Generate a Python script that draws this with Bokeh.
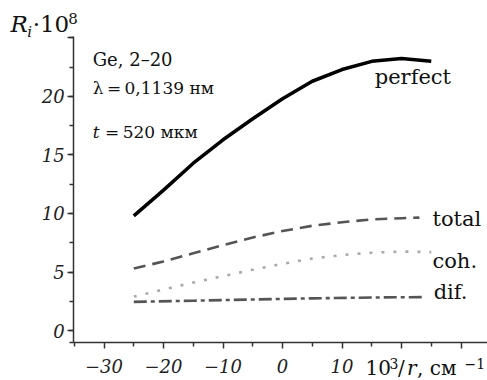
from bokeh.plotting import figure
from bokeh.models import Range1d, Label, FixedTicker
from bokeh.embed import file_html
from bokeh.resources import INLINE

# data
x_perfect = [-25, -20, -15, -10, -5, 0, 5, 10, 15, 20, 25]
y_perfect = [9.8, 12.0, 14.3, 16.3, 18.1, 19.8, 21.3, 22.3, 23.0, 23.25, 23.0]
x_total = [-25, -20, -15, -10, -5, 0, 5, 10, 15, 20, 23]
y_total = [5.3, 5.9, 6.6, 7.3, 7.95, 8.5, 8.95, 9.25, 9.5, 9.6, 9.65]
x_coh = [-25, -20, -15, -10, -5, 0, 5, 10, 15, 20, 25]
y_coh = [2.9, 3.5, 4.1, 4.65, 5.2, 5.7, 6.15, 6.45, 6.65, 6.75, 6.7]
x_dif = [-25, -15, -5, 5, 15, 24]
y_dif = [2.45, 2.55, 2.65, 2.75, 2.82, 2.86]

x_ticks = [-30, -20, -10, 0, 10, 20, 30]
x_tick_labels = ["\u221230", "\u221220", "\u221210", "0", "10", "", ""]
x_minor = [-35, -25, -15, -5, 5, 15, 25]
y_ticks = [0, 5, 10, 15, 20, 25]
y_tick_labels = ["0", "5", "10", "15", "20", ""]
y_minor = [-1, 0, 2.5, 5, 7.5, 10, 12.5, 15, 17.5, 20, 22.5, 25]

X_MIN, X_MAX = -35.1, 34.45
Y_MIN, Y_MAX = -1.03, 25.1

SERIF = "DejaVu Serif"

p = figure(width=487, height=380, output_backend="svg", toolbar_location=None,
           x_range=Range1d(-47.4, 34.45), y_range=Range1d(-4.27, 28.2),
           min_border=0)
p.outline_line_color = None
p.grid.grid_line_color = None
p.background_fill_color = "white"

for ax in (p.xaxis[0], p.yaxis[0]):
    ax.axis_line_width = 1.5
    ax.axis_line_color = "#333333"
    ax.major_tick_line_color = "#333333"
    ax.minor_tick_line_color = "#333333"
    ax.major_tick_line_width = 1.5
    ax.minor_tick_line_width = 1.5
    ax.major_tick_in = 0
    ax.minor_tick_in = 0
    ax.major_tick_out = 6
    ax.minor_tick_out = 4
    ax.major_label_text_font = SERIF
    ax.major_label_text_font_style = "italic"
    ax.major_label_text_font_size = "18px"
    ax.major_label_text_color = "#222222"

p.xaxis.fixed_location = Y_MIN
p.xaxis.bounds = (X_MIN, X_MAX)
p.xaxis.ticker = FixedTicker(ticks=x_ticks, minor_ticks=x_minor)
p.xaxis.major_label_overrides = dict(zip(x_ticks, x_tick_labels))
p.xaxis.major_label_standoff = 10
p.yaxis.fixed_location = X_MIN
p.yaxis.bounds = (Y_MIN, Y_MAX)
p.yaxis.ticker = FixedTicker(ticks=y_ticks, minor_ticks=y_minor)
p.yaxis.major_label_overrides = dict(zip(y_ticks, y_tick_labels))
p.yaxis.major_label_standoff = 3

p.line(x_perfect, y_perfect, line_color="black", line_width=3.5)
p.line(x_total, y_total, line_color="#555555", line_width=2.6, line_dash="12 7")
p.line(x_coh, y_coh, line_color="#aaaaaa", line_width=2.6, line_dash="3 9")
p.line(x_dif, y_dif, line_color="#555555", line_width=2.6, line_dash="13 4 4 4")

def lab(x, y, t, size="17px", style="normal"):
    p.add_layout(Label(x=x, y=y, text=t, text_font=SERIF, text_font_size=size,
                       text_font_style=style, text_align="left",
                       text_baseline="middle", text_color="#111111"))

# curve labels
lab(15.5, 21.65, "perfect", size="21px")
lab(25.2, 9.51, "total", size="21px")
lab(25.2, 5.92, "coh.", size="21px")
lab(25.4, 3.27, "dif.", size="21px")

# annotations
lab(-31.9, 23.2, "Ge, 2\u201320", size="18px")
lab(-31.9, 20.72, "\u03bb\u2009=\u20090,1139 \u043d\u043c", size="17px")
lab(-31.9, 16.96, "t", size="17px", style="italic")
lab(-30.4, 16.96, "\u2009=\u2009520 \u043c\u043a\u043c", size="17px")

# y axis title
lab(-45.7, 26.15, "R", size="23px", style="italic")
lab(-42.9, 25.5, "i", size="15px", style="italic")
lab(-42.0, 26.15, "\u00b710", size="23px")
lab(-36.0, 26.7, "8", size="15px")

# x axis title
lab(13.95, -3.16, "10", size="20px")
lab(18.0, -2.82, "3", size="14px")
lab(19.4, -3.16, "/", size="20px")
lab(20.9, -3.16, "r", size="20px", style="italic")
lab(22.6, -3.16, ", \u0441\u043c", size="20px")
lab(30.6, -2.82, "\u22121", size="14px")

open("out.html", "w").write(file_html(p, INLINE))
